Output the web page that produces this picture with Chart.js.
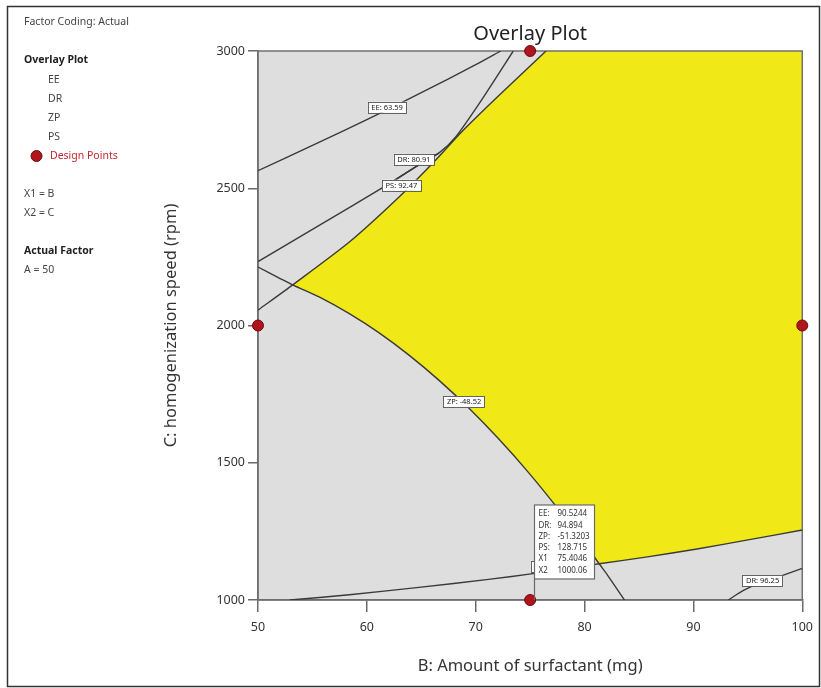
<!DOCTYPE html>
<html>
<head>
<meta charset="utf-8">
<script src="https://cdn.jsdelivr.net/npm/chart.js@4.4.1/dist/chart.umd.min.js"></script>
<style>
  html, body { margin: 0; padding: 0; background: #fff; }
  canvas { display: block; }
</style>
</head>
<body>
<canvas id="c" width="821" height="688"></canvas>
<script>
// Axis ticks
const xTicks = [50, 60, 70, 80, 90, 100];
const yTicks = [1000, 1500, 2000, 2500, 3000];

// Contour curves: B = amount of surfactant (mg), C = homogenization speed (rpm)
const eeX = [50, 55, 60, 65, 70, 72.3];
const eeY = [2564, 2656, 2750, 2848, 2950, 3000];

const drX = [61.41, 64.78, 66.61, 68.16, 70.53, 73.45];
const drY = [2501, 2585, 2628, 2687, 2821, 3000];

const psX = [50, 55.66, 61.41, 64.78, 66.61];
const psY = [2233, 2366, 2501, 2585, 2628];

const upperX = [50, 53.19, 58.39, 62.96, 66.24, 68.70, 72.08, 76.46];
const upperY = [2056, 2148, 2304, 2468, 2599, 2705, 2836, 3000];

const zpX = [50, 53.19, 55.66, 58.39, 61.13, 63.87, 66.61, 69.34, 72.08, 74.82, 77.55, 80.29, 81.34, 82.12, 83.67];
const zpY = [2213, 2148, 2103, 2043, 1973, 1892, 1801, 1700, 1588, 1466, 1333, 1191, 1132, 1090, 1000];

const lowerX = [52.92, 58.39, 64.78, 71.17, 75.09, 81.34, 85.77, 90.33, 94.89, 100];
const lowerY = [1000, 1019, 1046, 1075, 1095, 1132, 1157, 1186, 1218, 1255];

const dr2X = [93.2, 94.6, 96.3, 98.2, 100];
const dr2Y = [1000, 1035, 1065, 1090, 1115];

// Contour labels
const labelText = ['EE: 63.59', 'DR: 80.91', 'PS: 92.47', 'ZP: -48.52', 'DR: 96.25', ''];
const labelX = [61.86, 64.33, 63.18, 68.93, 96.35, 77.0];
const labelY = [2795, 2605, 2511, 1722, 1071, 1122];

// Design points
const dpX = [50, 100, 75, 75];
const dpY = [2000, 2000, 3000, 1000];

// Flag readout
const probeX = 75.4046;
const probeY = 1000.06;
const probeNames = ['EE:', 'DR:', 'ZP:', 'PS:', 'X1', 'X2'];
const probeValues = ['90.5244', '94.894', '-51.3203', '128.715', '75.4046', '1000.06'];

const pts = (xs, ys) => xs.map((x, i) => ({ x, y: ys[i] }));

// Feasible (sweet spot) region outline built from the bounding curves
const B_LEFT = 53.19, B_CROSS = 81.34;
const region = [];
upperX.forEach((x, i) => { if (x >= B_LEFT) region.push({ x, y: upperY[i] }); });
region.push({ x: 100, y: 3000 });
for (let i = lowerX.length - 1; i >= 0; i--) if (lowerX[i] >= B_CROSS) region.push({ x: lowerX[i], y: lowerY[i] });
for (let i = zpX.length - 1; i >= 0; i--) if (zpX[i] < B_CROSS && zpX[i] >= B_LEFT) region.push({ x: zpX[i], y: zpY[i] });

const FONT = '"Noto Sans", "Open Sans", sans-serif';
const lineColor = '#3a3a3a';

const contour = (id, data) => ({
  id, data, showLine: true, pointRadius: 0, borderColor: lineColor,
  borderWidth: 1.4, tension: 0.25, fill: false, order: 5
});

const decor = {
  id: 'decor',
  beforeDraw(chart) {
    const { ctx, chartArea: a } = chart;
    ctx.save();
    ctx.fillStyle = '#fff';
    ctx.fillRect(0, 0, chart.width, chart.height);
    ctx.fillStyle = '#dedede';
    ctx.fillRect(a.left, a.top, a.right - a.left, a.bottom - a.top);
    ctx.restore();
  },
  afterDatasetDraw(chart, args) {
    if (chart.data.datasets[args.index].id !== 'region') return;
    const { ctx, chartArea: a } = chart;
    ctx.save();
    ctx.strokeStyle = '#707070';
    ctx.lineWidth = 1.5;
    ctx.strokeRect(a.left, a.top, a.right - a.left, a.bottom - a.top);
    ctx.restore();
  },
  afterDatasetsDraw(chart) {
    const { ctx } = chart;
    const sx = chart.scales.x, sy = chart.scales.y;
    ctx.save();
    // contour value labels
    ctx.font = '7.5px ' + FONT;
    ctx.textAlign = 'center';
    ctx.textBaseline = 'middle';
    labelText.forEach((t, i) => {
      const px = sx.getPixelForValue(labelX[i]);
      const py = sy.getPixelForValue(labelY[i]);
      const w = t ? ctx.measureText(t).width + 7 : 42;
      const h = 11;
      ctx.fillStyle = '#fff';
      ctx.fillRect(px - w / 2, py - h / 2, w, h);
      ctx.strokeStyle = '#555';
      ctx.lineWidth = 0.9;
      ctx.strokeRect(Math.round(px - w / 2) + 0.5, Math.round(py - h / 2) + 0.5, Math.round(w), h);
      ctx.fillStyle = '#222';
      if (t) ctx.fillText(t, px, py + 0.5);
    });

    // flag readout box
    const fx = Math.round(sx.getPixelForValue(probeX)) - 0.5;
    const fy = sy.getPixelForValue(probeY);
    const bw = 60, bh = 74, gap = 21;
    const top = fy - gap - bh;
    ctx.strokeStyle = '#6a6a6a';
    ctx.lineWidth = 1.2;
    ctx.beginPath();
    ctx.moveTo(fx, fy);
    ctx.lineTo(fx, fy - gap);
    ctx.stroke();
    ctx.fillStyle = '#fff';
    ctx.fillRect(fx, top, bw, bh);
    ctx.strokeRect(fx, top, bw, bh);
    ctx.font = '8px ' + FONT;
    ctx.textAlign = 'left';
    ctx.fillStyle = '#333';
    probeNames.forEach((n, i) => {
      const y = top + 9 + i * 11.3;
      ctx.fillText(n, fx + 4, y);
      ctx.fillText(probeValues[i], fx + 23, y);
    });
    ctx.restore();
  },
  afterDraw(chart) {
    const { ctx, chartArea: a } = chart;
    ctx.save();
    ctx.textBaseline = 'middle';
    const cx = (a.left + a.right) / 2;

    // title
    ctx.fillStyle = '#222';
    ctx.font = '20px ' + FONT;
    ctx.textAlign = 'center';
    ctx.fillText('Overlay Plot', cx, 34);

    // axis titles
    ctx.font = '16.5px ' + FONT;
    ctx.fillStyle = '#333';
    ctx.fillText('B: Amount of surfactant (mg)', cx, 666);
    ctx.save();
    ctx.translate(171, (a.top + a.bottom) / 2);
    ctx.rotate(-Math.PI / 2);
    ctx.fillText('C: homogenization speed (rpm)', 0, 0);
    ctx.restore();

    // side panel
    ctx.textAlign = 'left';
    const text = (t, x, y, bold, color) => {
      ctx.font = (bold ? 'bold ' : '') + '10.5px ' + FONT;
      ctx.fillStyle = color || '#444';
      ctx.fillText(t, x, y);
    };
    text('Factor Coding: Actual', 24, 22);
    text('Overlay Plot', 24, 60, true, '#222');
    text('EE', 48, 80);
    text('DR', 48, 99);
    text('ZP', 48, 118);
    text('PS', 48, 137);
    ctx.beginPath();
    ctx.arc(36.5, 156, 5.5, 0, Math.PI * 2);
    ctx.fillStyle = '#b0141c';
    ctx.fill();
    ctx.strokeStyle = '#6e0a0e';
    ctx.lineWidth = 1;
    ctx.stroke();
    text('Design Points', 50, 156, false, '#c0282e');
    text('X1 = B', 24, 194);
    text('X2 = C', 24, 213);
    text('Actual Factor', 24, 251, true, '#222');
    text('A = 50', 24, 270);

    // outer frame
    ctx.strokeStyle = '#333';
    ctx.lineWidth = 1.5;
    ctx.strokeRect(7.5, 6.5, 812, 680);
    ctx.restore();
  }
};

new Chart(document.getElementById('c'), {
  type: 'scatter',
  data: {
    datasets: [
      {
        id: 'region', data: region, showLine: true, pointRadius: 0,
        borderWidth: 0, borderColor: 'rgba(0,0,0,0)', backgroundColor: '#f1e817',
        fill: 'shape', tension: 0, order: 10
      },
      contour('ee', pts(eeX, eeY)),
      contour('dr', pts(drX, drY)),
      contour('ps', pts(psX, psY)),
      contour('upper', pts(upperX, upperY)),
      contour('zp', pts(zpX, zpY)),
      contour('lower', pts(lowerX, lowerY)),
      contour('dr2', pts(dr2X, dr2Y)),
      {
        id: 'design', data: pts(dpX, dpY), pointRadius: 5.5, pointHoverRadius: 5.5,
        backgroundColor: '#b0141c', borderColor: '#6e0a0e', borderWidth: 1,
        clip: false, order: 1
      }
    ]
  },
  options: {
    responsive: false,
    animation: false,
    events: [],
    layout: { padding: { left: 198, right: 15, top: 51, bottom: 48 } },
    plugins: { legend: { display: false }, tooltip: { enabled: false }, title: { display: false } },
    scales: {
      x: {
        type: 'linear', min: 50, max: 100,
        afterBuildTicks: s => { s.ticks = xTicks.map(v => ({ value: v })); },
        afterFit: s => { s.height = 40; },
        ticks: { font: { family: FONT, size: 12.5 }, color: '#333', padding: 8, callback: v => String(v) },
        grid: { drawOnChartArea: false, drawTicks: true, tickLength: 12, color: '#6a6a6a', lineWidth: 1.5 },
        border: { display: true, color: '#6a6a6a', width: 1.5 }
      },
      y: {
        type: 'linear', min: 1000, max: 3000,
        afterBuildTicks: s => { s.ticks = yTicks.map(v => ({ value: v })); },
        afterFit: s => { s.width = 60; },
        ticks: { font: { family: FONT, size: 12.5 }, color: '#333', padding: 3, callback: v => String(v) },
        grid: { drawOnChartArea: false, drawTicks: true, tickLength: 10, color: '#6a6a6a', lineWidth: 1.5 },
        border: { display: true, color: '#6a6a6a', width: 1.5 }
      }
    }
  },
  plugins: [decor]
});
</script>
</body>
</html>
